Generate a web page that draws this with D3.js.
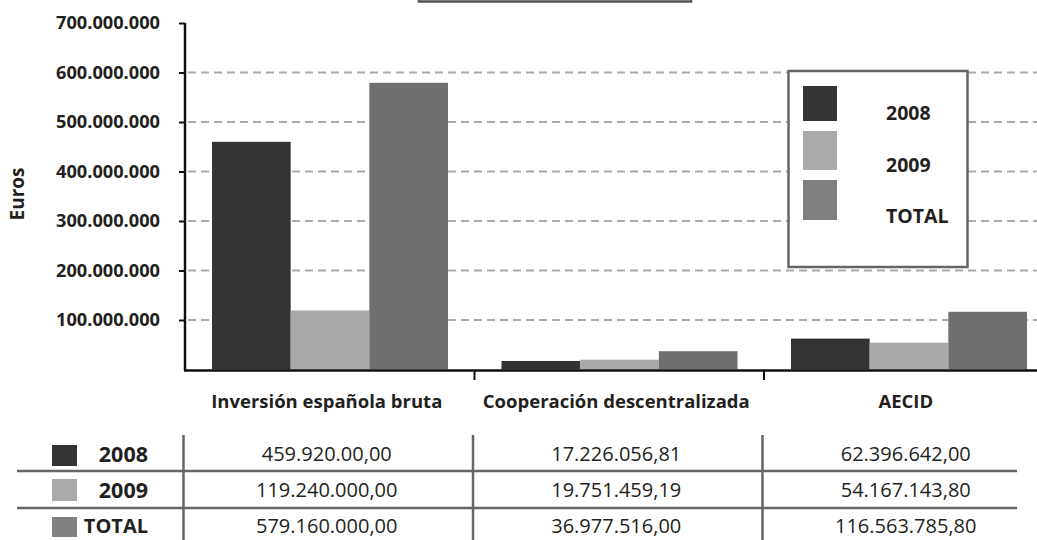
<!DOCTYPE html>
<html><head><meta charset="utf-8">
<script src="https://cdn.jsdelivr.net/npm/d3@7/dist/d3.min.js"></script>
<style>
html,body{margin:0;padding:0;background:#fff;}
svg{display:block;font-family:"Open Sans",sans-serif;}
</style></head>
<body>
<svg id="chart" width="1037" height="540"></svg>
<script>
const categories = ["Inversión española bruta", "Cooperación descentralizada", "AECID"];
const seriesNames = ["2008", "2009", "TOTAL"];
const values2008 = [459920000, 17226056.81, 62396642.00];
const values2009 = [119240000, 19751459.19, 54167143.80];
const valuesTotal = [579160000, 36977516.00, 116563785.80];
const tableText2008 = ["459.920.00,00", "17.226.056,81", "62.396.642,00"];
const tableText2009 = ["119.240.000,00", "19.751.459,19", "54.167.143,80"];
const tableTextTotal = ["579.160.000,00", "36.977.516,00", "116.563.785,80"];
const yTickValues = [100000000, 200000000, 300000000, 400000000, 500000000, 600000000, 700000000];
const yAxisTitle = "Euros";

const barColors = {"2008": "#333333", "2009": "#a9a9a9", "TOTAL": "#6f6f6f"};
const swatchColors = {"2008": "#333333", "2009": "#aaaaaa", "TOTAL": "#808080"};
const textColor = "#231f20";

const svg = d3.select("#chart");
const locale = d3.formatLocale({decimal: ",", thousands: ".", grouping: [3], currency: ["", "€"]});
const fmt = locale.format(",.0f");

const x0 = d3.scaleBand().domain(categories).range([185, 1053.5]).padding(0);
const x1 = d3.scaleBand().domain(seriesNames).range([27, 263]).padding(0);
const y = d3.scaleLinear().domain([0, 700000000]).range([369.5, 23]);

const seriesValues = {"2008": values2008, "2009": values2009, "TOTAL": valuesTotal};

// title box remnant
svg.append("rect").attr("x", 419).attr("y", -40).attr("width", 272).attr("height", 41.5)
  .attr("fill", "none").attr("stroke", "#555").attr("stroke-width", 2.5);

// gridlines
svg.append("g").selectAll("line").data(yTickValues.filter(v => v < 700000000)).join("line")
  .attr("x1", 188).attr("x2", 1037).attr("y1", d => y(d)).attr("y2", d => y(d))
  .attr("stroke", "#aaaaaa").attr("stroke-width", 2).attr("stroke-dasharray", "8,5");

// bars
const g = svg.append("g");
categories.forEach((c, i) => {
  seriesNames.forEach(s => {
    const v = seriesValues[s][i];
    g.append("rect")
      .attr("x", x0(c) + x1(s)).attr("width", x1.bandwidth())
      .attr("y", y(v)).attr("height", y(0) - y(v))
      .attr("fill", barColors[s]);
  });
});

// y axis
const yAxis = svg.append("g").attr("transform", "translate(185,0)")
  .call(d3.axisLeft(y).tickValues(yTickValues).tickFormat(fmt).tickSize(6).tickSizeOuter(0).tickPadding(19));
yAxis.select(".domain").attr("stroke", "#111").attr("stroke-width", 2.5);
yAxis.selectAll(".tick line").attr("stroke", "#111").attr("stroke-width", 2);
yAxis.selectAll(".tick text").attr("font-size", 18.2).attr("font-weight", "bold")
  .attr("font-family", "Open Sans, sans-serif").attr("fill", textColor);
yAxis.select(".domain").attr("d", `M0,${y(0)+1}V${y(700000000)}`);

// x axis
svg.append("line").attr("x1", 184).attr("x2", 1037).attr("y1", 370.5).attr("y2", 370.5)
  .attr("stroke", "#111").attr("stroke-width", 2.5);
svg.append("g").selectAll("line").data(categories.slice(1)).join("line")
  .attr("x1", d => x0(d)).attr("x2", d => x0(d)).attr("y1", 370).attr("y2", 380)
  .attr("stroke", "#111").attr("stroke-width", 2);
svg.append("g").selectAll("text").data(categories).join("text")
  .attr("x", d => x0(d) + x0.bandwidth() / 2 - 3).attr("y", 408)
  .attr("text-anchor", "middle").attr("font-size", 18.5).attr("font-weight", "bold")
  .attr("fill", textColor).text(d => d);

// y title
svg.append("text").attr("transform", "translate(24,194) rotate(-90)")
  .attr("text-anchor", "middle").attr("font-size", 19).attr("font-weight", "bold")
  .attr("fill", textColor).text(yAxisTitle);

// legend
const leg = svg.append("g");
leg.append("rect").attr("x", 788.5).attr("y", 71).attr("width", 179).attr("height", 196)
  .attr("fill", "#fff").attr("stroke", "#666").attr("stroke-width", 2.5);
const legSw = [[86, 121], [131, 170], [180, 220]];
const legBase = [120, 172, 223];
seriesNames.forEach((s, i) => {
  leg.append("rect").attr("x", 803).attr("y", legSw[i][0]).attr("width", 34)
    .attr("height", legSw[i][1] - legSw[i][0]).attr("fill", swatchColors[s]);
  leg.append("text").attr("x", 886).attr("y", legBase[i]).attr("font-size", 19.5)
    .attr("font-weight", "bold").attr("fill", textColor).text(s);
});

// table
const tbl = svg.append("g");
const rowTexts = {"2008": tableText2008, "2009": tableText2009, "TOTAL": tableTextTotal};
const rowCenters = [454, 490, 526];
const rowSw = [[445, 466], [479, 501], [517, 537]];
[471, 508].forEach(yy => tbl.append("line").attr("x1", 17).attr("x2", 1017)
  .attr("y1", yy).attr("y2", yy).attr("stroke", "#666").attr("stroke-width", 2.5));
categories.forEach(c => tbl.append("line").attr("x1", x0(c) - 1.5).attr("x2", x0(c) - 1.5)
  .attr("y1", 435).attr("y2", 540).attr("stroke", "#666").attr("stroke-width", 2.5));
seriesNames.forEach((s, i) => {
  tbl.append("rect").attr("x", 52).attr("y", rowSw[i][0]).attr("width", 25)
    .attr("height", rowSw[i][1] - rowSw[i][0]).attr("fill", swatchColors[s]);
  tbl.append("text").attr("x", 148).attr("y", rowCenters[i]).attr("dy", "0.35em")
    .attr("text-anchor", "end").attr("font-size", s === "TOTAL" ? 20 : 21.5).attr("font-weight", "bold")
    .attr("fill", textColor).text(s);
  categories.forEach((c, j) => {
    tbl.append("text").attr("x", x0(c) + x0.bandwidth() / 2 - 3).attr("y", rowCenters[i])
      .attr("dy", "0.35em").attr("text-anchor", "middle").attr("font-size", 20)
      .attr("fill", textColor).text(rowTexts[s][j]);
  });
});
</script>
</body></html>
